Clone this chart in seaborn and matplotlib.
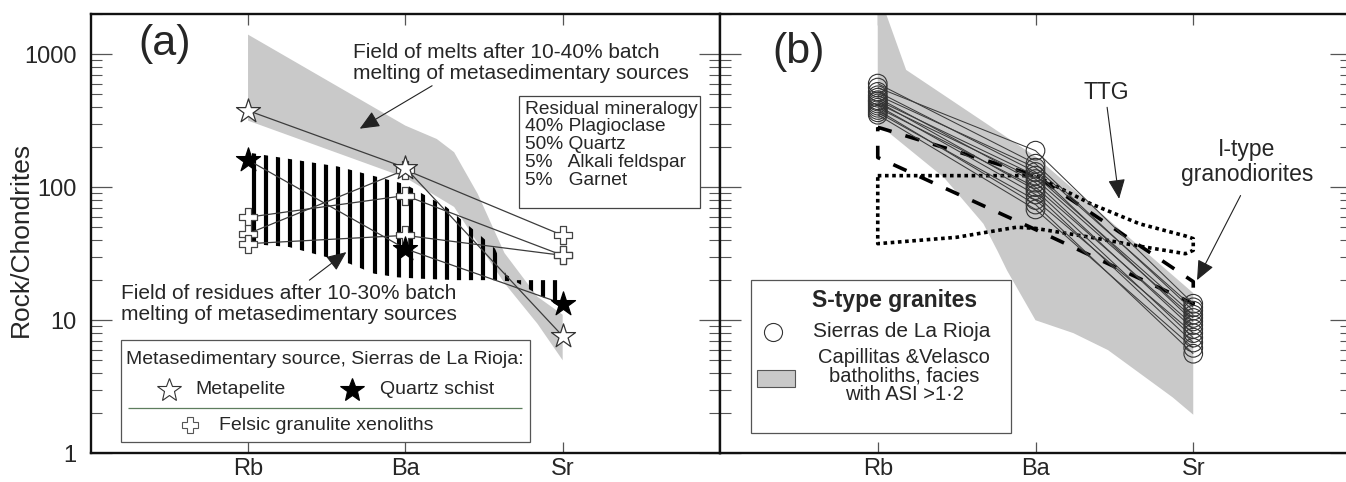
import numpy as np
import pandas as pd
import matplotlib
matplotlib.use("Agg")
import matplotlib.pyplot as plt
import seaborn as sns
from matplotlib.patches import Polygon, Rectangle

# ---------------------------------------------------------------- data
elements = ["Rb", "Ba", "Sr"]
ytick_values = [1, 10, 100, 1000]
ytick_labels = ["1", "10", "100", "1000"]

# (a) metasedimentary sources, Sierras de La Rioja (Rb, Ba, Sr normalised)
metapelite = [376, 140, 7.6]
quartz_schist = [160, 34.4, 13.3]
granulite_xenoliths = [
    [59.4, 86.5, 30.7],
    [44.7, 135, 43.4],
    [37.6, 43.4, 30.7],
]

# field of melts after 10-40% batch melting (outline: element position, value)
melt_field_x = [0, 1.0, 1.2, 1.31, 1.46, 1.63, 1.84, 2.0, 2.0, 1.84, 1.63, 1.48, 1.31, 1.0, 0]
melt_field_y = [1400, 290, 230, 183, 89, 32, 15, 11, 5.0, 9.4, 19, 35, 71, 118, 316]

# field of residues after 10-30% batch melting
residue_field_x = [0, 0.57, 1.0, 1.26, 1.49, 1.57, 1.64, 1.70, 2.0, 2.0, 1.70, 1.56, 1.33,
                   1.10, 0.95, 0.80, 0.645, 0.49, 0.26, 0]
residue_field_y = [182, 143, 105, 71, 42, 34.5, 22, 20, 20, 12.3, 19.5, 20, 20,
                   20.5, 21, 22.4, 26.6, 30, 35.5, 37.6]

# (b) S-type granites, Sierras de La Rioja
rioja_rb = [600, 560, 520, 490, 470, 450, 440, 425, 410, 395, 380, 365, 350]
rioja_ba = [150, 188, 130, 140, 108, 122, 95, 115, 88, 100, 74, 80, 68]
rioja_sr = [11.8, 13.3, 9.8, 12.5, 8.6, 11.0, 7.4, 10.4, 6.8, 9.2, 5.6, 8.0, 6.2]

# Capillitas & Velasco batholiths, facies with ASI > 1.2
asi_field_x = [0, 0.18, 1.0, 2.0, 2.0, 1.87, 1.66, 1.46, 1.24, 1.0, 0.82, 0.76, 0.67, 0.42, 0]
asi_field_y = [3000, 760, 170, 16, 1.95, 2.63, 4.0, 5.96, 8.0, 10, 23.6, 33, 53, 118, 300]

# I-type granodiorites (closed outline)
itype_x = [0, 1, 2, 2, 1, 0, 0]
itype_y = [282, 122, 19.5, 13.3, 48, 167, 282]

# TTG (closed outline)
ttg_x = [0, 1.0, 1.35, 1.66, 1.95, 2.0, 2.0, 1.95, 1.66, 1.35, 1.0, 0.88, 0.5, 0, 0]
ttg_y = [122, 122, 75, 53, 43, 41, 33.5, 31.6, 36, 42, 49, 50, 42, 37.6, 122]


def long_frame(samples, group):
    rows = []
    for i, vals in enumerate(samples):
        for j, v in enumerate(vals):
            rows.append({"sample": f"{group}{i}", "pos": j, "value": v})
    return pd.DataFrame(rows)


# ---------------------------------------------------------------- style
sns.set_style("white")
plt.rcParams["font.family"] = ["Liberation Sans", "DejaVu Sans"]
plt.rcParams["lines.solid_capstyle"] = "butt"
plt.rcParams["lines.dash_capstyle"] = "butt"

FIELD_GREY = "#c9c9c9"
LINE_GREY = "#3c3c3c"

fig = plt.figure(figsize=(13.46, 4.82), dpi=100)
W, H = 1346.0, 482.0
bottom = 1 - 453.3 / H
height = (453.3 - 14) / H
ax_a = fig.add_axes([90.7 / W, bottom, (720 - 90.7) / W, height])
ax_b = fig.add_axes([720 / W, bottom, 631 / W, height])

for ax in (ax_a, ax_b):
    ax.set_yscale("log")
    ax.set_ylim(1, 2000)
    ax.set_xlim(-1, 3)
    ax.set_xticks(range(len(elements)))
    ax.set_xticklabels(elements)
    ax.set_yticks(ytick_values)
    ax.set_yticklabels(ytick_labels)
    for s in ax.spines.values():
        s.set_linewidth(1.7)
        s.set_color("#111111")
    ax.tick_params(axis="y", which="major", direction="in", length=15, width=0.9,
                   left=True, right=True, color="#555555", labelsize=17, pad=10)
    ax.tick_params(axis="y", which="minor", direction="in", length=8, width=0.8,
                   left=True, right=True, color="#555555")
    ax.tick_params(axis="x", which="major", direction="in", length=8, width=0.9,
                   top=True, bottom=True, color="#555555", labelsize=17, pad=3.5)
    ax.tick_params(axis="x", which="minor", bottom=False, top=False)
    ax.set_facecolor("white")

ax_b.tick_params(axis="y", which="both", labelleft=False)

arrow_kw = dict(arrowstyle="-|>,head_length=0.55,head_width=0.24", mutation_scale=22,
                lw=0.8, color="#222222", shrinkA=0, shrinkB=0)

# ---------------------------------------------------------------- panel (a)
ax_a.fill(melt_field_x, melt_field_y, color=FIELD_GREY, lw=0, zorder=1)

res_poly = Polygon(np.column_stack([residue_field_x, residue_field_y]), closed=True,
                   facecolor="none", edgecolor="none", transform=ax_a.transData)
ax_a.add_patch(res_poly)
bars = ax_a.vlines(np.linspace(0.04, 1.95, 26), 1, 2000, colors="black", lw=3.0, zorder=2)
bars.set_clip_path(res_poly)

df_mp = long_frame([metapelite], "mp")
df_qs = long_frame([quartz_schist], "qs")
df_gx = long_frame(granulite_xenoliths, "gx")
for df in (df_mp, df_qs, df_gx):
    sns.lineplot(data=df, x="pos", y="value", units="sample", estimator=None, sort=False,
                 color=LINE_GREY, lw=0.9, ax=ax_a, legend=False, zorder=3)
sns.scatterplot(data=df_gx, x="pos", y="value", marker="P", s=150, color="white",
                edgecolor="#444444", linewidth=0.9, ax=ax_a, legend=False, zorder=4)
sns.scatterplot(data=df_mp, x="pos", y="value", marker="*", s=330, color="white",
                edgecolor="#333333", linewidth=0.9, ax=ax_a, legend=False, zorder=5)
sns.scatterplot(data=df_qs, x="pos", y="value", marker="*", s=330, color="black",
                edgecolor="black", linewidth=0.9, ax=ax_a, legend=False, zorder=5)

ax_a.text(0.075, 0.932, "(a)", transform=ax_a.transAxes, fontsize=31, ha="left", va="center")
ax_a.text(0.4167, 0.935, "Field of melts after 10-40% batch\nmelting of metasedimentary sources",
          transform=ax_a.transAxes, fontsize=15, ha="left", va="top", linespacing=1.15)
ax_a.annotate("", xy=(0.71, 275), xytext=(1.17, 578), arrowprops=arrow_kw, zorder=6)

ax_a.add_patch(Rectangle((0.6805, 0.558), 0.2875, 0.255, transform=ax_a.transAxes,
                         facecolor="white", edgecolor="#444444", lw=0.9, zorder=6))
ax_a.text(0.690, 0.803, "Residual mineralogy\n40% Plagioclase\n50% Quartz\n"
          "5%   Alkali feldspar\n5%   Garnet",
          transform=ax_a.transAxes, fontsize=13.8, ha="left", va="top",
          linespacing=1.06, zorder=7)

ax_a.text(0.0481, 0.385, "Field of residues after 10-30% batch\nmelting of metasedimentary sources",
          transform=ax_a.transAxes, fontsize=15, ha="left", va="top", linespacing=1.15, zorder=6)
ax_a.annotate("", xy=(0.625, 32.5), xytext=(0.39, 20), arrowprops=arrow_kw, zorder=6)

ax_a.add_patch(Rectangle((0.0477, 0.0264), 0.6503, 0.2316, transform=ax_a.transAxes,
                         facecolor="white", edgecolor="#555555", lw=0.9, zorder=6))
ax_a.text(0.3716, 0.2124, "Metasedimentary source, Sierras de La Rioja:",
          transform=ax_a.transAxes, fontsize=14, ha="center", va="center", zorder=7)
ax_a.plot([0.1244], [0.1452], marker="*", ms=18, mfc="white", mec="#333333", mew=0.8,
          ls="none", transform=ax_a.transAxes, zorder=7)
ax_a.text(0.1657, 0.1452, "Metapelite", transform=ax_a.transAxes, fontsize=14,
          ha="left", va="center", zorder=7)
ax_a.plot([0.4152], [0.1452], marker="*", ms=18, mfc="black", mec="black", mew=0.8,
          ls="none", transform=ax_a.transAxes, zorder=7)
ax_a.text(0.4597, 0.1452, "Quartz schist", transform=ax_a.transAxes, fontsize=14,
          ha="left", va="center", zorder=7)
ax_a.plot([0.0593, 0.6854], [0.1031, 0.1031], color="#5d7d5d", lw=0.9,
          transform=ax_a.transAxes, zorder=7)
ax_a.plot([0.1578], [0.0633], marker="P", ms=12, mfc="white", mec="#555555", mew=0.8,
          ls="none", transform=ax_a.transAxes, zorder=7)
ax_a.text(0.2039, 0.0633, "Felsic granulite xenoliths", transform=ax_a.transAxes,
          fontsize=14, ha="left", va="center", zorder=7)

ax_a.set_xlabel("")
ax_a.set_ylabel("Rock/Chondrites", fontsize=19)
ax_a.yaxis.set_label_coords(-0.0925, 0.486)

# ---------------------------------------------------------------- panel (b)
ax_b.fill(asi_field_x, asi_field_y, color=FIELD_GREY, lw=0, zorder=1)

ax_b.plot(itype_x, itype_y, color="black", lw=2.6, dashes=(4, 4), zorder=3)
ax_b.plot(ttg_x, ttg_y, color="black", lw=2.6, dashes=(1, 1), zorder=3)

df_rj = long_frame([list(v) for v in zip(rioja_rb, rioja_ba, rioja_sr)], "rj")
sns.lineplot(data=df_rj, x="pos", y="value", units="sample", estimator=None, sort=False,
             color=LINE_GREY, lw=0.75, ax=ax_b, legend=False, zorder=4)
sns.scatterplot(data=df_rj, x="pos", y="value", marker="o", s=180, facecolor="none",
                edgecolor="#333333", linewidth=0.8, ax=ax_b, legend=False, zorder=5)

ax_b.text(0.0824, 0.9135, "(b)", transform=ax_b.transAxes, fontsize=31, ha="left", va="center")
ax_b.text(0.6128, 0.8224, "TTG", transform=ax_b.transAxes, fontsize=16.5, ha="center", va="center")
ax_b.annotate("", xy=(1.53, 81.7), xytext=(1.454, 398), arrowprops=arrow_kw, zorder=6)
ax_b.text(0.8347, 0.6638, "I-type\ngranodiorites", transform=ax_b.transAxes, fontsize=16.5,
          ha="center", va="center", linespacing=1.1)
ax_b.annotate("", xy=(2.024, 20), xytext=(2.3, 86.5), arrowprops=arrow_kw, zorder=6)

ax_b.add_patch(Rectangle((0.0491, 0.0462), 0.4121, 0.3483, transform=ax_b.transAxes,
                         facecolor="white", edgecolor="#555555", lw=0.9, zorder=6))
ax_b.text(0.2773, 0.3474, "S-type granites", transform=ax_b.transAxes, fontsize=16.5,
          fontweight="bold", ha="center", va="center", zorder=7)
ax_b.plot([0.084], [0.2768], marker="o", ms=13, mfc="none", mec="#333333", mew=0.8,
          ls="none", transform=ax_b.transAxes, zorder=7)
ax_b.text(0.1469, 0.2768, "Sierras de La Rioja", transform=ax_b.transAxes, fontsize=15,
          ha="left", va="center", zorder=7)
ax_b.add_patch(Rectangle((0.0586, 0.1513), 0.0603, 0.0383, transform=ax_b.transAxes,
                         facecolor=FIELD_GREY, edgecolor="#555555", lw=0.8, zorder=7))
ax_b.text(0.2916, 0.1764, "Capillitas &Velasco\nbatholiths, facies\nwith ASI >1\u00b72",
          transform=ax_b.transAxes, fontsize=14.5, ha="center", va="center",
          linespacing=0.98, zorder=7)

ax_b.set_xlabel("")
ax_b.set_ylabel("")

fig.savefig("out.png", dpi=100, facecolor="white")
